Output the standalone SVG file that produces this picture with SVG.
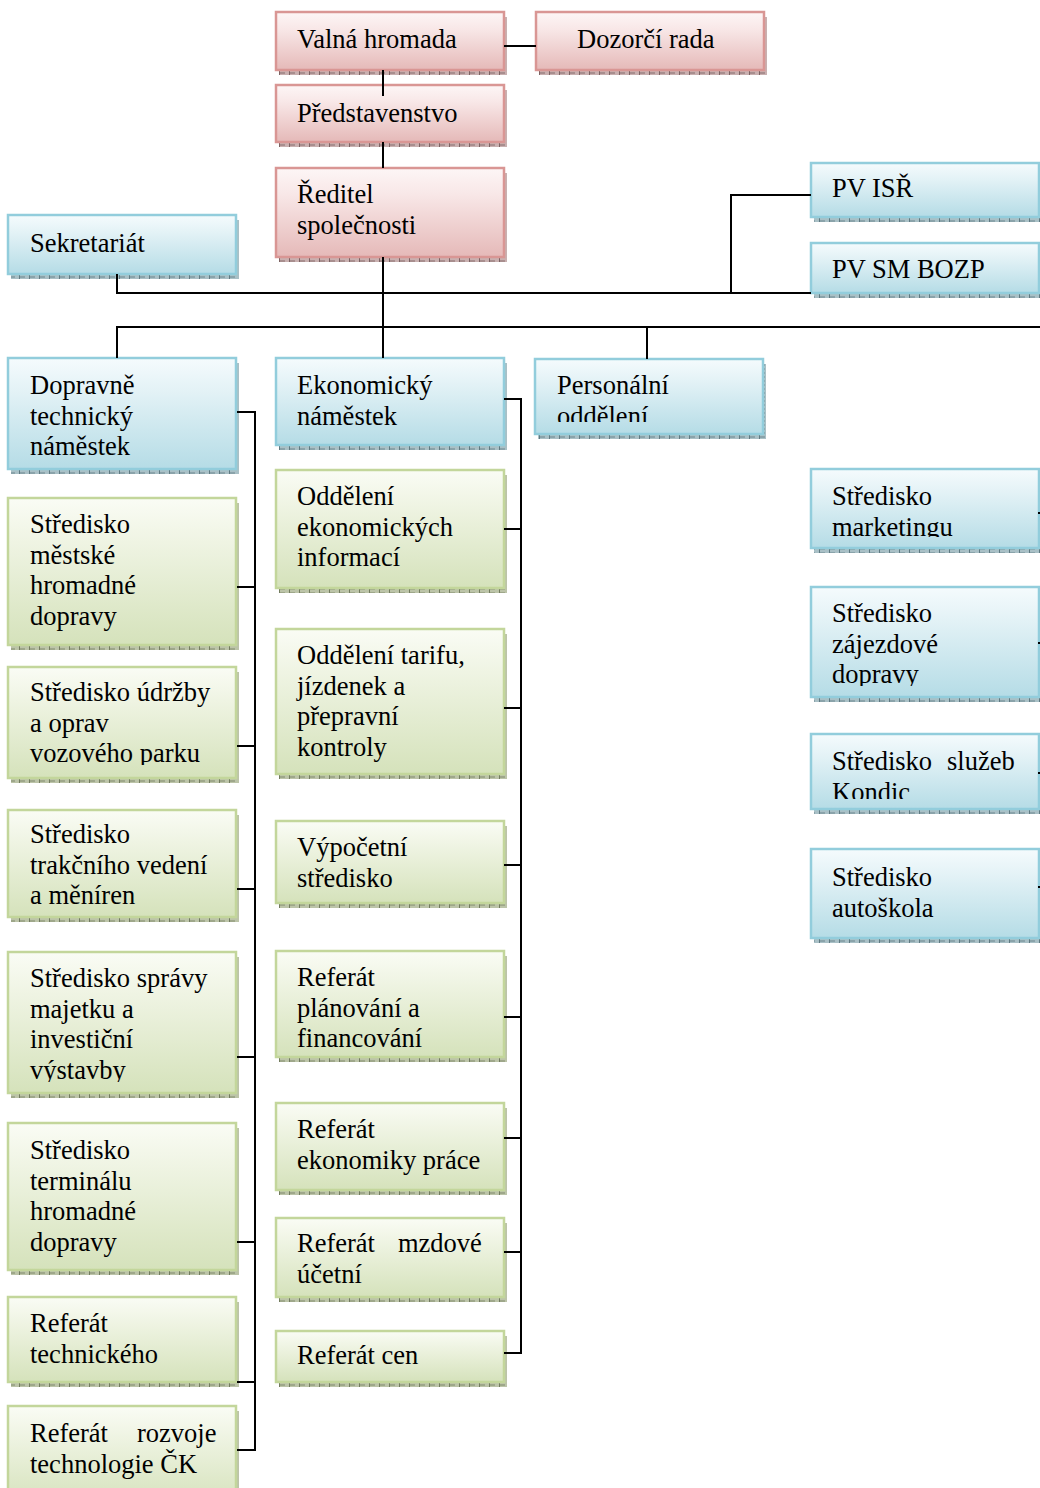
<svg xmlns="http://www.w3.org/2000/svg" width="1040" height="1488" viewBox="0 0 1040 1488">
<style>
text{font-family:"Liberation Serif",Tinos,"Noto Serif","DejaVu Serif",serif;font-size:26.5px;fill:#000}
.bx{stroke-width:2.5}
.pk{fill:url(#gP);stroke:#d99694}
.bl{fill:url(#gB);stroke:#92cddc}
.gr{fill:url(#gG);stroke:#c3d69b}
.shP{fill:url(#pP)}
.shB{fill:url(#pB)}
.shG{fill:url(#pG)}
.cn{stroke:#000;stroke-width:2;fill:none}
</style>
<defs>
<linearGradient id="gP" x1="0" y1="0" x2="0" y2="1"><stop offset="0" stop-color="#fdf6f6"/><stop offset="0.3" stop-color="#f8e7e7"/><stop offset="1" stop-color="#e5b9b8"/></linearGradient>
<linearGradient id="gB" x1="0" y1="0" x2="0" y2="1"><stop offset="0" stop-color="#f5fbfd"/><stop offset="0.3" stop-color="#e3f2f6"/><stop offset="1" stop-color="#b5dce6"/></linearGradient>
<linearGradient id="gG" x1="0" y1="0" x2="0" y2="1"><stop offset="0" stop-color="#fafcf5"/><stop offset="0.3" stop-color="#eff4e3"/><stop offset="1" stop-color="#d5e2bb"/></linearGradient>
<pattern id="pP" width="10" height="4" patternUnits="userSpaceOnUse"><rect width="10" height="4" fill="#c9b0b0"/><rect width="5" height="2" fill="#a88e8e"/><rect x="9" width="1" height="4" fill="#7d6363"/></pattern>
<pattern id="pB" width="10" height="4" patternUnits="userSpaceOnUse"><rect width="10" height="4" fill="#a9c0c6"/><rect width="5" height="2" fill="#8aa3aa"/><rect x="9" width="1" height="4" fill="#5f7a82"/></pattern>
<pattern id="pG" width="10" height="4" patternUnits="userSpaceOnUse"><rect width="10" height="4" fill="#bcc4a8"/><rect width="5" height="2" fill="#9ea78a"/><rect x="9" width="1" height="4" fill="#737c5f"/></pattern>
<clipPath id="cPers"><rect x="535" y="359" width="228" height="63"/></clipPath>
<clipPath id="cMark"><rect x="811" y="469" width="228" height="68"/></clipPath>
<clipPath id="cZaj"><rect x="811" y="587" width="228" height="99"/></clipPath>
<clipPath id="cKon"><rect x="811" y="734" width="228" height="65"/></clipPath>
<clipPath id="cUdr"><rect x="8" y="667" width="228" height="98"/></clipPath>
<clipPath id="cSpr"><rect x="8" y="952" width="228" height="130"/></clipPath>
<clipPath id="cPlan"><rect x="276" y="951" width="228" height="97"/></clipPath>
</defs>

<g id="n-valna"><rect class="shP" x="279" y="17" width="228" height="58"/><rect class="bx pk" x="276" y="12" width="228" height="58"/><text x="297" y="48">Valná hromada</text></g>
<g id="n-dozorci"><rect class="shP" x="539" y="17" width="228" height="58"/><rect class="bx pk" x="536" y="12" width="228" height="58"/><text x="577" y="48">Dozorčí rada</text></g>
<g id="n-predstavenstvo"><rect class="shP" x="279" y="90" width="228" height="57"/><rect class="bx pk" x="276" y="85" width="228" height="57"/><text x="297" y="122">Představenstvo</text></g>
<g id="n-reditel"><rect class="shP" x="279" y="173" width="228" height="89"/><rect class="bx pk" x="276" y="168" width="228" height="89"/><text x="297" y="203">Ředitel</text><text x="297" y="234">společnosti</text></g>

<g id="n-sekretariat"><rect class="shB" x="11" y="220" width="228" height="59"/><rect class="bx bl" x="8" y="215" width="228" height="59"/><text x="30" y="252">Sekretariát</text></g>
<g id="n-pvisr"><rect class="shB" x="814" y="168" width="228" height="54"/><rect class="bx bl" x="811" y="163" width="228" height="54"/><text x="832" y="197">PV ISŘ</text></g>
<g id="n-pvsm"><rect class="shB" x="814" y="248" width="228" height="50"/><rect class="bx bl" x="811" y="243" width="228" height="50"/><text x="832" y="278">PV SM BOZP</text></g>
<g id="n-dopravne"><rect class="shB" x="11" y="363" width="228" height="111"/><rect class="bx bl" x="8" y="358" width="228" height="111"/><text x="30" y="394">Dopravně</text><text x="30" y="424.5">technický</text><text x="30" y="455">náměstek</text></g>
<g id="n-ekonomicky"><rect class="shB" x="279" y="363" width="228" height="87"/><rect class="bx bl" x="276" y="358" width="228" height="87"/><text x="297" y="394">Ekonomický</text><text x="297" y="424.5">náměstek</text></g>
<g id="n-personalni"><rect class="shB" x="538" y="364" width="228" height="75"/><rect class="bx bl" x="535" y="359" width="228" height="75"/><g clip-path="url(#cPers)"><text x="557" y="394">Personální</text><text x="557" y="425">oddělení</text></g></g>
<g id="n-marketing"><rect class="shB" x="814" y="474" width="228" height="79"/><rect class="bx bl" x="811" y="469" width="228" height="79"/><g clip-path="url(#cMark)"><text x="832" y="505">Středisko</text><text x="832" y="535.5">marketingu</text></g></g>
<g id="n-zajezdove"><rect class="shB" x="814" y="592" width="228" height="110"/><rect class="bx bl" x="811" y="587" width="228" height="110"/><g clip-path="url(#cZaj)"><text x="832" y="622">Středisko</text><text x="832" y="652.5">zájezdové</text><text x="832" y="683">dopravy</text></g></g>
<g id="n-kondic"><rect class="shB" x="814" y="739" width="228" height="75"/><rect class="bx bl" x="811" y="734" width="228" height="75"/><g clip-path="url(#cKon)"><text x="832" y="770">Středisko<tspan x="947">služeb</tspan></text><text x="832" y="800.5">Kondic</text></g></g>
<g id="n-autoskola"><rect class="shB" x="814" y="854" width="228" height="89"/><rect class="bx bl" x="811" y="849" width="228" height="89"/><text x="832" y="886">Středisko</text><text x="832" y="916.5">autoškola</text></g>

<g id="n-mestske"><rect class="shG" x="11" y="503" width="228" height="147"/><rect class="bx gr" x="8" y="498" width="228" height="147"/><text x="30" y="533">Středisko</text><text x="30" y="563.5">městské</text><text x="30" y="594">hromadné</text><text x="30" y="624.5">dopravy</text></g>
<g id="n-udrzby"><rect class="shG" x="11" y="672" width="228" height="111"/><rect class="bx gr" x="8" y="667" width="228" height="111"/><g clip-path="url(#cUdr)"><text x="30" y="701">Středisko údržby</text><text x="30" y="731.5">a oprav</text><text x="30" y="762">vozového parku</text></g></g>
<g id="n-trakcni"><rect class="shG" x="11" y="815" width="228" height="107"/><rect class="bx gr" x="8" y="810" width="228" height="107"/><text x="30" y="843">Středisko</text><text x="30" y="873.5">trakčního vedení</text><text x="30" y="904">a měníren</text></g>
<g id="n-spravy"><rect class="shG" x="11" y="957" width="228" height="141"/><rect class="bx gr" x="8" y="952" width="228" height="141"/><g clip-path="url(#cSpr)"><text x="30" y="987">Středisko správy</text><text x="30" y="1017.5">majetku a</text><text x="30" y="1048">investiční</text><text x="30" y="1078.5">výstavby</text></g></g>
<g id="n-terminalu"><rect class="shG" x="11" y="1128" width="228" height="147"/><rect class="bx gr" x="8" y="1123" width="228" height="147"/><text x="30" y="1159">Středisko</text><text x="30" y="1189.5">terminálu</text><text x="30" y="1220">hromadné</text><text x="30" y="1250.5">dopravy</text></g>
<g id="n-technickeho"><rect class="shG" x="11" y="1302" width="228" height="85"/><rect class="bx gr" x="8" y="1297" width="228" height="85"/><text x="30" y="1332">Referát</text><text x="30" y="1362.5">technického</text></g>
<g id="n-rozvoje"><rect class="shG" x="11" y="1411" width="228" height="100"/><rect class="bx gr" x="8" y="1406" width="228" height="100"/><text x="30" y="1442">Referát<tspan x="137">rozvoje</tspan></text><text x="30" y="1472.5">technologie ČK</text></g>

<g id="n-ekinf"><rect class="shG" x="279" y="475" width="228" height="118"/><rect class="bx gr" x="276" y="470" width="228" height="118"/><text x="297" y="505">Oddělení</text><text x="297" y="535.5">ekonomických</text><text x="297" y="566">informací</text></g>
<g id="n-tarifu"><rect class="shG" x="279" y="634" width="228" height="145"/><rect class="bx gr" x="276" y="629" width="228" height="145"/><text x="297" y="664">Oddělení tarifu,</text><text x="297" y="694.5">jízdenek a</text><text x="297" y="725">přepravní</text><text x="297" y="755.5">kontroly</text></g>
<g id="n-vypocetni"><rect class="shG" x="279" y="826" width="228" height="82"/><rect class="bx gr" x="276" y="821" width="228" height="82"/><text x="297" y="856">Výpočetní</text><text x="297" y="886.5">středisko</text></g>
<g id="n-planovani"><rect class="shG" x="279" y="956" width="228" height="106"/><rect class="bx gr" x="276" y="951" width="228" height="106"/><g clip-path="url(#cPlan)"><text x="297" y="986">Referát</text><text x="297" y="1016.5">plánování a</text><text x="297" y="1047">financování</text></g></g>
<g id="n-ekprace"><rect class="shG" x="279" y="1108" width="228" height="87"/><rect class="bx gr" x="276" y="1103" width="228" height="87"/><text x="297" y="1138">Referát</text><text x="297" y="1168.5">ekonomiky práce</text></g>
<g id="n-mzdove"><rect class="shG" x="279" y="1223" width="228" height="79"/><rect class="bx gr" x="276" y="1218" width="228" height="79"/><text x="297" y="1252">Referát<tspan x="398">mzdové</tspan></text><text x="297" y="1282.5">účetní</text></g>
<g id="n-cen"><rect class="shG" x="279" y="1336" width="228" height="51"/><rect class="bx gr" x="276" y="1331" width="228" height="51"/><text x="297" y="1364">Referát cen</text></g>

<g id="connectors" class="cn">
<path d="M504 46H536"/>
<path d="M383 70V96"/>
<path d="M383 142V168"/>
<path d="M383 257V358"/>
<path d="M117 274V293H811"/>
<path d="M731 293V195H811"/>
<path d="M117 358V327H1040"/>
<path d="M647 327V359"/>
<path d="M237 412H255V1450H237"/>
<path d="M237 587H255M237 746H255M237 889H255M237 1057H255M237 1242H255M237 1382H255"/>
<path d="M504 399H521V1353H504"/>
<path d="M504 529H521M504 708H521M504 865H521M504 1017H521M504 1138H521M504 1252H521"/>
<path d="M1038 513H1042M1038 643H1042M1038 773H1042M1038 887H1042"/>
</g>
</svg>
